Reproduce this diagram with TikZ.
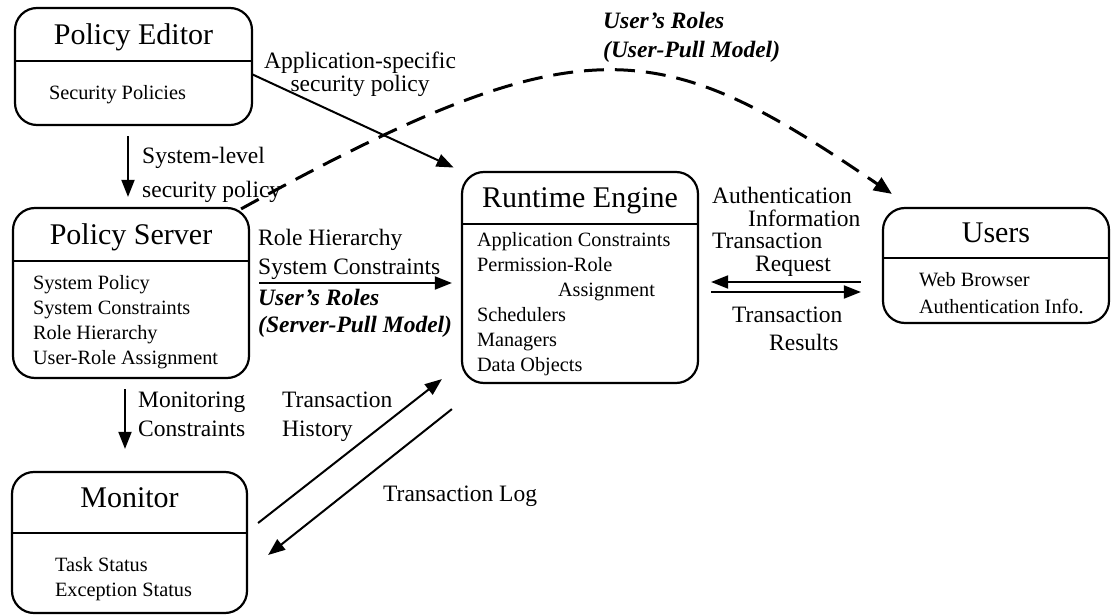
\documentclass[tikz,border=0pt]{standalone}
\usepackage{fontspec}
\setmainfont{Liberation Serif}
\usepackage{xcolor}
\usepackage{tikz}
\usetikzlibrary{arrows.meta,positioning,calc}
\definecolor{rbacInk}{RGB}{0,0,0}
\definecolor{rbacPaper}{RGB}{255,255,255}
\newcommand{\lblsize}[1]{\fontsize{23.5}{#1}\selectfont}

\begin{document}
\begin{tikzpicture}[>={Triangle[length=17pt,width=13pt]}, x=1pt, y=-1pt, color=rbacInk, font=\fontsize{20.3}{25}\selectfont]
\tikzstyle{box}=[draw=rbacInk, line width=2.2pt, rounded corners=22pt, inner sep=0pt]
\tikzstyle{boxtitle}=[inner sep=0pt, anchor=north, font=\fontsize{30}{36}\selectfont, text height=20pt, text depth=0pt]
\tikzstyle{items}=[inner sep=0pt, align=left, anchor=north west, font=\fontsize{20.3}{25}\selectfont]
\tikzstyle{lbl}=[inner sep=0pt, align=left, anchor=north west]
\tikzstyle{flow}=[->, line width=2pt]
\tikzstyle{pull}=[->, line width=3pt, dash pattern=on 20pt off 11pt, >={Triangle[length=18pt,width=15pt]}]

\fill[rbacPaper] (0,0) rectangle (1112,615);
\useasboundingbox (0,0) rectangle (1112,615);

% Policy Editor
\node[box, minimum width=237pt, minimum height=117pt] (pe) at (133.5,66.5) {};
\node[boxtitle, minimum width=237pt, minimum height=54pt] (pet) at (pe.north) {Policy Editor};
\draw[line width=2pt] (pet.south west) -- (pet.south east);
\node[items] (pei) at ([shift={(34pt,-23.5pt)}]pet.south west) {Security Policies};

% Policy Server
\node[box, minimum width=236pt, minimum height=170pt] (ps) at (131,293) {};
\node[boxtitle, minimum width=236pt, minimum height=54pt] (pst) at (ps.north) {Policy Server};
\draw[line width=2pt] (pst.south west) -- (pst.south east);
\node[items] (psi) at ([shift={(20pt,-13.5pt)}]pst.south west) {System Policy\\System Constraints\\Role Hierarchy\\User-Role Assignment};

% Monitor
\node[box, minimum width=235pt, minimum height=141pt] (mon) at (129.5,542.5) {};
\node[boxtitle, minimum width=235pt, minimum height=62pt, text depth=10pt] (mont) at (mon.north) {Monitor};
\draw[line width=2pt] (mont.south west) -- (mont.south east);
\node[items] (moni) at ([shift={(43pt,-23.5pt)}]mont.south west) {Task Status\\Exception Status};

% Runtime Engine
\node[box, minimum width=236pt, minimum height=211pt] (re) at (580,277.5) {};
\node[boxtitle, minimum width=236pt, minimum height=53pt] (ret) at (re.north) {Runtime Engine};
\draw[line width=2pt] (ret.south west) -- (ret.south east);
\node[items] (rei) at ([shift={(15pt,-7.5pt)}]ret.south west) {Application Constraints\\Permission-Role\\\hspace*{81pt}Assignment\\Schedulers\\Managers\\Data Objects};

% Users
\node[box, minimum width=226pt, minimum height=115pt] (us) at (996,265.5) {};
\node[boxtitle, minimum width=226pt, minimum height=51pt] (ust) at (us.north) {Users};
\draw[line width=2pt] (ust.south west) -- (ust.south east);
\node[items, font=\fontsize{20.3}{27}\selectfont] (usi) at ([shift={(36pt,-13.5pt)}]ust.south west) {Web Browser\\Authentication Info.};

% labels
\node[lbl, anchor=north, align=center, font=\lblsize{23}] (lapp) at (360,52) {Application-specific\\security policy};
\node[lbl, font=\lblsize{34}] (lsys) at (142,147) {System-level\\security policy};
\node[lbl, font=\lblsize{29}] (lrole) at (258,229) {Role Hierarchy\\System Constraints};
\node[lbl, font=\lblsize{27}\bfseries\itshape] (lspull) at (258,289) {User's Roles\\(Server-Pull Model)};
\node[lbl, font=\lblsize{29}] (lmon) at (138,392) {Monitoring\\Constraints};
\node[lbl, font=\lblsize{29}] (lhist) at (282,392) {Transaction\\History};
\node[lbl, font=\lblsize{29}] (llog) at (383,486) {Transaction Log};
\node[lbl, font=\lblsize{29}\bfseries\itshape] (lupull) at (603,12) {User's Roles\\(User-Pull Model)};
\node[lbl, font=\lblsize{22.7}] (lreq) at (712,187) {Authentication\\\hspace*{36pt}Information\\Transaction\\\hspace*{43pt}Request};
\node[lbl, font=\lblsize{28}] (lres) at (732,307) {Transaction\\\hspace*{37pt}Results};

% flows
\draw[flow, shorten >=8pt] ([yshift=-13pt]pet.south east) -- (re.north west);
\draw[flow, shorten <=10pt, shorten >=10pt] ([xshift=-5.5pt]pe.south) -- ([xshift=-5.5pt]pe.south |- ps.north);
\draw[flow, shorten <=9pt, shorten >=9pt] ([yshift=10pt]ps.east) -- ([yshift=10pt]ps.east -| re.west);
\draw[flow, shorten <=10pt, shorten >=22pt] ([xshift=-6pt]ps.south) -- ([xshift=-6pt]ps.south |- mon.north);
\draw[flow] ([shift={(10pt,19.5pt)}]mon.east) -- ([shift={(-19pt,5pt)}]re.south west);
\draw[flow] ([shift={(-9pt,-25pt)}]re.south west) -- ([shift={(20pt,-12.5pt)}]mon.east);
\draw[flow, shorten <=21pt, shorten >=12pt] ([yshift=-4.5pt]re.east -| us.west) -- ([yshift=-4.5pt]re.east);
\draw[flow, shorten <=12pt, shorten >=21pt] ([yshift=-14.5pt]re.east) -- ([yshift=-14.5pt]re.east -| us.west);
\draw[pull] ([shift={(-9pt,-2pt)}]ps.north east) .. controls +(345,-190) and +(-232,-158) .. ([shift={(10pt,13pt)}]us.north west);
\end{tikzpicture}
\end{document}
